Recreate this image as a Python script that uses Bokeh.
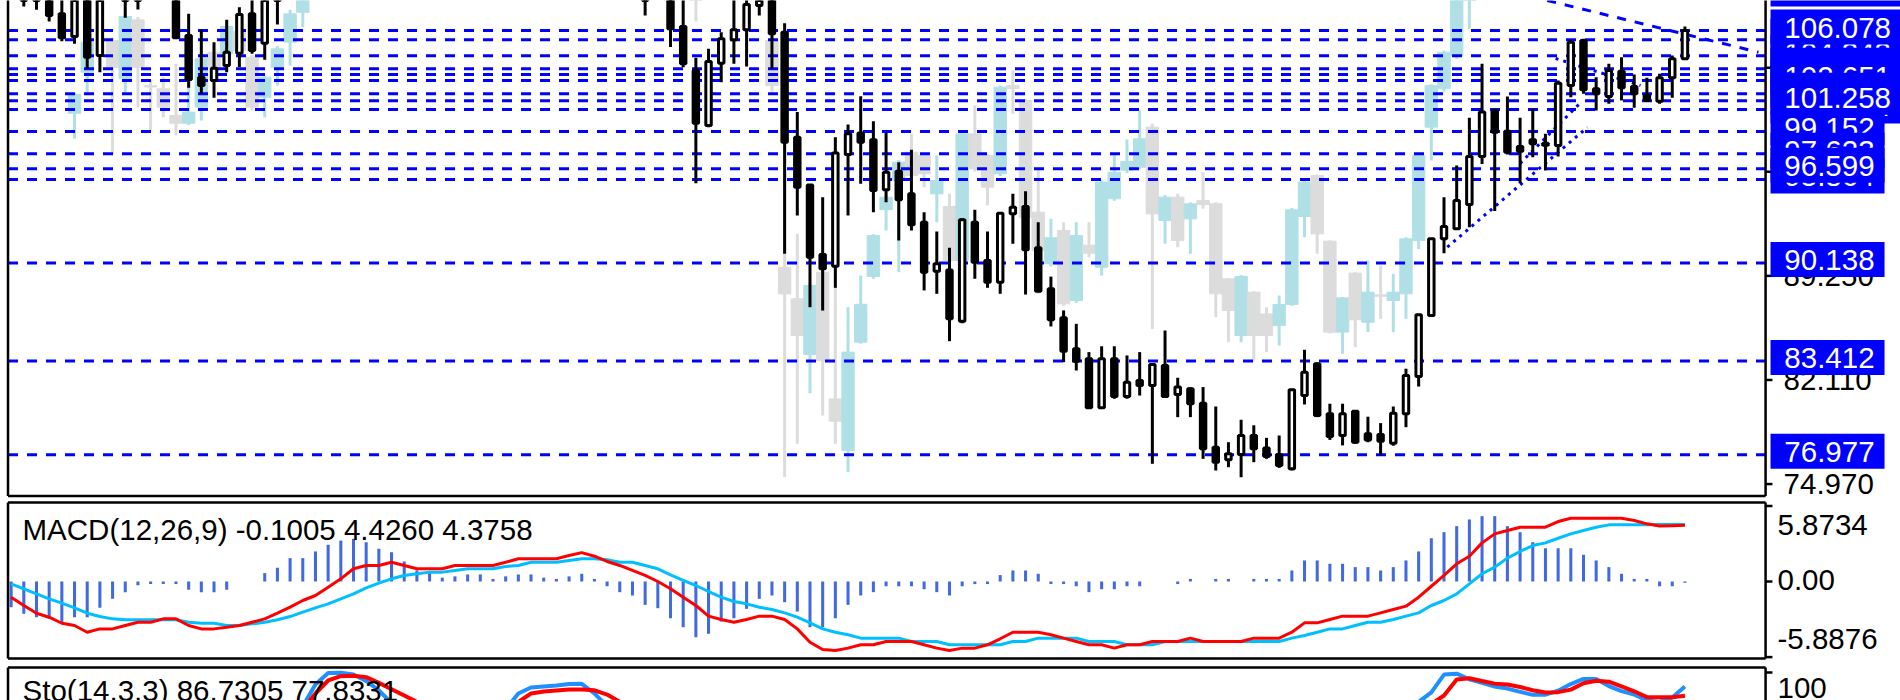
import numpy as np
from bokeh.plotting import figure
from bokeh.models import Range1d, ColumnDataSource
from bokeh.layouts import column
from bokeh.embed import file_html
from bokeh.resources import INLINE
from bokeh.core.properties import value

N = None
FONT = value("Liberation Sans")
FS = "29.5px"

# ---------------- main price bars (bar index 0..131) ----------------
bar_open = ([108.9, 108.4, 108.8, 107.22, 105.67, 108.60, 104.36, N, 109.8, 108.6,
             N, N, 108.9, 105.74, 102.88, 102.65, 103.68, 104.52, 107.22, 105.21,
             108.60] + [N] * 28 +
            [109.6,
             N, 108.6, 106.35, 103.34, 99.56, 103.84, 105.44, 106.13, 107.79, 108.70,
             105.96, 98.76, 95.49, 90.71, 89.91, 97.57, 99.04, 98.58, 95.15, 96.43,
             94.88, 92.93, 89.57, 89.66, 86.14, 92.93, 90.30, 88.82, 93.51, 94.01,
             91.17, 88.36, 86.37, 84.25, 83.56, 80.20, 83.56, 80.98, 82.07, 81.73,
             83.10, 81.11, 81.50, 80.52, 77.50, 76.63, 76.99, 78.30, 77.45, 76.99,
             76.02, 81.04, 83.22, 79.79, 78.30, 79.96, 78.42, 78.37, 77.77, 79.79,
             82.35, 86.53, 91.79, 92.48, 94.14, 97.44, 100.59, 99.17, 98.12, 98.58,
             98.35, 98.19, 102.30, 105.39, 102.08, 101.55, 103.29, 102.24, 101.62, 101.23,
             102.83, 104.14])
bar_high = ([109.5, 109.2, 109.3, 108.40, 109.00, 109.00, 109.30, N, 110.3, 109.5,
             N, N, 109.3, 107.22, 106.13, 105.28, 106.81, 107.68, 108.40, 109.00,
             110.00] + [N] * 28 +
            [110.1,
             N, 109.2, 108.30, 104.21, 104.82, 105.96, 108.30, 108.50, 109.00, 109.10,
             106.58, 100.48, 95.49, 94.65, 98.76, 99.63, 101.57, 99.86, 99.04, 97.05,
             97.90, 93.62, 92.29, 91.17, 93.20, 93.78, 92.29, 93.60, 94.88, 95.06,
             92.93, 89.20, 86.88, 85.96, 84.02, 84.42, 84.42, 83.79, 84.02, 83.26,
             85.50, 82.26, 81.60, 81.62, 80.29, 77.84, 79.38, 79.00, 78.14, 78.30,
             81.50, 84.18, 83.30, 80.48, 80.48, 80.00, 79.59, 79.15, 80.29, 82.88,
             86.60, 91.80, 94.65, 96.82, 100.09, 103.79, 100.65, 101.55, 100.09, 100.71,
             98.99, 102.65, 105.44, 105.51, 102.88, 103.79, 104.25, 103.06, 102.83, 103.11,
             104.36, 106.35])
bar_low = ([107.72, 107.50, 106.70, 105.34, 105.17, 103.45, 103.22, N, 106.95, 107.52,
            N, N, 105.58, 102.15, 101.74, 101.46, 103.22, 103.56, 104.48, 104.07,
            106.49] + [N] * 28 +
           [107.10,
            N, 104.94, 103.56, 95.60, 99.45, 102.53, 103.80, 103.61, 107.10, 103.45,
            90.76, 93.39, 87.10, 86.87, 88.43, 93.39, 95.56, 93.62, 94.30, 91.68,
            92.36, 88.25, 88.02, 84.77, 86.00, 89.05, 88.43, 88.02, 91.45, 87.97,
            88.15, 85.78, 83.33, 82.76, 80.15, 80.15, 80.82, 80.82, 81.04, 76.36,
            80.90, 79.56, 79.56, 76.70, 75.90, 76.13, 75.44, 76.47, 76.70, 76.08,
            75.90, 80.43, 79.56, 78.00, 77.62, 77.73, 77.84, 76.93, 77.60, 78.87,
            81.66, 86.50, 90.80, 92.40, 92.59, 96.93, 93.69, 97.57, 95.60, 97.39,
            96.48, 97.44, 101.50, 101.74, 100.59, 101.05, 101.28, 100.78, 101.25, 101.05,
            101.46, 104.10])
bar_close = ([108.4, 108.9, 107.10, 105.58, 108.50, 104.25, 108.90, N, 108.6, 109.2,
              N, N, 105.58, 102.72, 102.31, 103.49, 104.59, 107.17, 104.71, 108.60,
              109.40] + [N] * 28 +
             [109.0,
              N, 106.19, 103.80, 99.72, 103.95, 105.51, 106.13, 107.86, 108.60, 105.85,
              98.42, 95.33, 90.53, 89.73, 97.67, 98.99, 98.42, 95.10, 96.36, 94.47,
              92.75, 89.50, 90.08, 86.30, 93.09, 90.19, 88.82, 93.55, 93.96, 91.04,
              88.20, 86.24, 84.08, 83.40, 80.20, 83.56, 80.98, 81.96, 81.73, 83.17,
              80.98, 81.62, 80.48, 77.39, 76.47, 77.05, 78.30, 77.39, 76.86, 76.24,
              81.44, 82.64, 79.67, 78.23, 79.79, 77.84, 78.00, 77.91, 79.83, 82.42,
              86.58, 91.79, 92.64, 94.42, 97.44, 100.48, 99.10, 97.73, 97.80, 98.31,
              98.20, 102.46, 105.28, 102.01, 101.74, 103.34, 102.15, 101.74, 101.28, 102.83,
              104.14, 106.08])

# ---------------- overlay ("ghost") bars, same bar index ----------------
g_open = ([N, N, N, N, 100.40, 103.22, N, 105.39, 102.77, 106.81,
           102.30, 102.08, 100.25, 99.72, 100.82, 104.59, 104.48, 106.00, 104.25, 101.50,
           103.56, 105.28, 107.33] + [N] * 30 + [109.50] + [N] * 5 + [105.39,
           89.84, 87.68, 83.86, 89.50, 80.81, 77.27, 84.70, 89.21, 93.79, 95.79,
           97.73, 97.50, 94.88, 94.01, 90.30, 98.99, 97.50, 96.25, 102.30, 101.28,
           93.62, 90.08, 92.36, 87.56, 91.36, 89.84, 94.54, 96.50, 96.70, 99.45,
           93.05, 94.65, 93.16, 94.42, 94.19, 89.05, 85.16, 88.13, 86.64, 85.85,
           87.29, 93.32, 96.13, 91.63, 85.39, 89.44, 86.07, 87.95, 87.56, 88.02,
           91.68, 99.45, 102.08, 104.36, 108.50] + [N] * 17)
g_high = ([N, N, N, N, 101.80, 105.50, N, 105.60, 107.20, 107.00,
           102.65, 102.88, 103.79, 104.14, 104.30, 104.80, 106.50, 106.40, 104.40, 103.00,
           105.00, 107.50, 109.00] + [N] * 30 + [110.00] + [N] * 5 + [108.30,
           98.00, 92.13, 88.70, 89.60, 89.05, 87.10, 89.27, 92.10, 94.80, 97.20,
           99.00, 97.70, 97.50, 94.88, 99.10, 100.94, 97.60, 102.30, 103.34, 101.40,
           96.59, 93.16, 92.93, 92.93, 92.93, 95.80, 97.62, 98.60, 100.59, 99.68,
           94.80, 94.88, 94.30, 96.36, 94.30, 89.10, 89.30, 88.20, 87.10, 87.90,
           93.90, 95.80, 96.20, 91.70, 87.80, 89.50, 90.30, 89.96, 89.39, 91.90,
           97.60, 102.40, 104.70, 108.60, 110.00] + [N] * 17)
g_low = ([N, N, N, N, 98.65, 101.85, N, 97.62, 101.85, 100.80,
          99.22, 100.13, 98.88, 99.60, 99.90, 103.30, 103.90, 104.50, 100.60, 100.13,
          102.30, 103.68, 106.30] + [N] * 30 + [106.70] + [N] * 5 + [101.90,
          75.45, 77.73, 81.20, 79.67, 77.73, 75.78, 84.60, 89.05, 92.36, 89.50,
          94.50, 95.33, 92.93, 90.20, 90.20, 96.40, 94.08, 96.10, 100.37, 93.10,
          88.00, 89.90, 87.20, 87.40, 90.53, 89.27, 94.40, 96.30, 96.60, 85.60,
          91.45, 91.22, 90.76, 93.85, 86.42, 84.70, 84.70, 83.44, 84.02, 84.47,
          87.20, 91.90, 90.76, 85.30, 83.90, 84.36, 85.39, 86.30, 85.39, 86.30,
          91.10, 97.16, 101.90, 104.14, 106.20] + [N] * 17)
g_close = ([N, N, N, N, 101.70, 105.28, N, 103.56, 107.04, 103.56,
            102.20, 100.82, 99.72, 100.48, 104.14, 103.56, 106.35, 104.70, 100.82, 102.88,
            104.82, 107.22, 108.50] + [N] * 30 + [108.60] + [N] * 5 + [102.30,
            88.01, 85.16, 88.59, 83.44, 79.28, 84.02, 87.30, 92.02, 94.64, 97.05,
            96.13, 96.25, 95.79, 90.30, 98.99, 96.59, 95.33, 102.19, 102.10, 93.27,
            90.99, 91.86, 87.33, 92.02, 90.80, 95.68, 96.36, 97.10, 98.65, 93.50,
            94.65, 91.68, 94.19, 94.14, 88.02, 86.87, 89.21, 85.16, 85.16, 87.29,
            93.78, 95.68, 92.13, 85.39, 87.74, 86.24, 88.13, 87.85, 88.13, 91.79,
            97.50, 102.30, 104.59, 108.40, 109.50] + [N] * 17)

# ---------------- horizontal levels and price axis ----------------
level_prices = [105.441, 104.343, 103.455, 103.062, 102.651, 101.742, 100.664, 99.152, 97.623, 95.864,
                106.078, 101.258, 96.599, 90.138, 83.412, 76.977]
level_front = [0, 0, 0, 0, 0, 0, 0, 0, 0, 0, 1, 1, 1, 1, 1, 1]
offscreen_level = [108.683]
price_ticks = [74.970, 82.110, 89.250, 96.390, 103.530]
price_tick_labels = ["74.970", "82.110", "89.250", "96.390", "103.530"]

# trend lines (bar index, price)
trend_x0 = [112.26, 120.8, 118.0]
trend_y0 = [91.22, 104.16, 96.96]
trend_x1 = [123.3, 127.5, 122.7]
trend_y1 = [99.43, 102.31, 101.07]
dash_x0 = [120.14]
dash_y0 = [108.14]
dash_x1 = [136.8]
dash_y1 = [104.59]

# ---------------- MACD (bar index -1..131) ----------------
macd_hist = [-2.00, -2.52, -2.78, -2.91, -3.25, -2.78, -2.78, -2.05, -1.35, -0.83,
             -0.30, -0.20, -0.20, -0.20, -0.65, -0.83, -0.83, -0.65, 0.00, 0.00,
             0.65, 1.07, 1.82, 1.82, 2.34, 2.86, 3.19, 3.32, 3.06, 2.55,
             2.28, 1.56, 0.86, 0.65, 0.30, 0.40, 0.55, 0.55, 0.20, 0.40,
             0.55, 0.55, 0.30, 0.20, 0.40, 0.60, 0.20, -0.37, -0.83, -1.09,
             -1.82, -2.08, -2.86, -3.56, -4.34, -4.07, -3.12, -2.86, -2.13, -1.35,
             -1.09, -1.61, -2.34, -3.56, -3.56, -2.86, -1.82, -1.09, -0.83, -0.37,
             -0.37, -0.37, -0.60, -0.83, -1.09, -0.37, -0.20, -0.20, 0.50, 0.86,
             0.86, 0.60, -0.20, -0.20, -0.37, -0.83, -0.60, -0.60, -0.37, -0.37,
             0.00, 0.00, -0.20, 0.20, 0.00, 0.20, 0.20, 0.00, 0.20, 0.20,
             0.20, 0.86, 1.64, 1.64, 1.38, 1.38, 1.12, 1.12, 0.86, 1.12,
             1.64, 2.34, 3.37, 3.84, 4.31, 4.83, 5.09, 5.09, 4.31, 3.84,
             3.06, 2.59, 2.59, 2.59, 2.08, 1.64, 1.12, 0.60, 0.20, 0.20,
             -0.37, -0.37, -0.10]
macd_red = [-1.22, -1.87, -2.47, -2.78, -3.25, -3.43, -3.95, -3.69, -3.69, -3.43,
            -3.17, -3.17, -2.91, -2.91, -3.43, -3.69, -3.69, -3.56, -3.43, -3.17,
            -2.91, -2.47, -2.00, -1.48, -1.09, -0.44, 0.21, 0.99, 1.25, 1.25,
            1.50, 1.25, 0.99, 0.99, 0.99, 1.25, 1.25, 1.25, 1.25, 1.50,
            1.77, 1.77, 1.77, 1.77, 2.02, 2.25, 1.97, 1.56, 1.25, 0.86,
            0.47, 0.00, -0.57, -1.22, -1.87, -2.70, -2.96, -3.17, -2.96, -2.70,
            -2.70, -2.96, -3.69, -4.73, -5.30, -5.37, -5.19, -4.93, -4.93, -4.67,
            -4.67, -4.67, -4.93, -5.19, -5.37, -5.19, -5.19, -4.93, -4.46, -3.95,
            -3.95, -3.95, -4.15, -4.41, -4.67, -4.93, -4.93, -5.19, -4.93, -4.93,
            -4.67, -4.67, -4.67, -4.41, -4.67, -4.67, -4.67, -4.67, -4.41, -4.41,
            -4.41, -3.95, -3.22, -3.22, -2.96, -2.70, -2.70, -2.70, -2.44, -2.18,
            -1.92, -1.22, -0.37, 0.47, 1.38, 1.97, 3.01, 3.71, 3.97, 4.23,
            4.23, 4.23, 4.67, 4.93, 4.93, 4.93, 4.93, 4.93, 4.75, 4.49,
            4.32, 4.35, 4.38]
macd_blue = [-0.18, -0.57, -0.96, -1.35, -1.69, -2.05, -2.47, -2.73, -2.91, -2.98,
             -2.98, -2.98, -2.98, -2.98, -3.17, -3.25, -3.25, -3.43, -3.43, -3.30,
             -3.17, -2.98, -2.73, -2.39, -2.05, -1.74, -1.35, -0.96, -0.49, -0.13,
             0.21, 0.47, 0.60, 0.73, 0.73, 0.86, 0.99, 0.99, 0.99, 1.17,
             1.25, 1.50, 1.50, 1.50, 1.64, 1.77, 1.77, 1.70, 1.50, 1.50,
             1.25, 0.99, 0.52, 0.08, -0.31, -0.78, -1.22, -1.56, -1.74, -2.00,
             -2.18, -2.44, -2.78, -3.22, -3.69, -3.95, -4.15, -4.41, -4.41, -4.41,
             -4.41, -4.67, -4.67, -4.67, -4.93, -4.93, -4.93, -4.93, -4.93, -4.67,
             -4.67, -4.41, -4.41, -4.41, -4.41, -4.67, -4.67, -4.67, -4.93, -4.93,
             -4.93, -4.67, -4.67, -4.67, -4.67, -4.67, -4.67, -4.67, -4.67, -4.67,
             -4.67, -4.41, -4.20, -3.95, -3.69, -3.69, -3.43, -3.17, -3.17, -2.96,
             -2.70, -2.44, -1.87, -1.48, -0.96, -0.18, 0.60, 1.12, 1.82, 2.34,
             2.80, 3.01, 3.37, 3.71, 3.97, 4.23, 4.41, 4.41, 4.41, 4.41,
             4.43, 4.43, 4.43]
macd_ticks = [5.8734, 0.0, -5.8876]
macd_tick_labels = ["5.8734", "0.00", "-5.8876"]
macd_title = "MACD(12,26,9) -0.1005 4.4260 4.3758"

# ---------------- Stochastic (bar index 0..131) ----------------
sto_main = [40, 35, 30, 25, 28, 22, 30, 38, 35, 40,
            45, 42, 35, 20, 15, 22, 35, 50, 45, 55,
            62, 66, 68, 88.6, 99.6, 99.8, 98.1, 91.9, 82.9, 71,
            62, 55, 50, 52, 58, 55, 48, 55, 65, 80,
            85.7, 86.7, 87.6, 89.0, 89.2, 80, 68, 55, 42, 35,
            30, 22, 15, 8, 20, 30, 38, 45, 48, 35,
            10, 8, 5, 6, 25, 30, 32, 25, 30, 25,
            22, 12, 15, 8, 25, 20, 15, 28, 30, 20,
            12, 8, 5, 6, 4, 18, 12, 16, 14, 22,
            15, 17, 12, 6, 4, 8, 15, 12, 10, 8,
            40, 50, 35, 28, 35, 25, 28, 26, 38, 55,
            72, 81, 98.0, 98.9, 93.6, 90.1, 86.6, 84.7, 81.6, 78.7,
            78.9, 82.7, 89.0, 93.9, 93.9, 87.1, 82.2, 79.0, 73.3, 72.0,
            76.2, 86.73]
sto_signal = [38, 36, 35, 30, 28, 25, 27, 30, 34, 38,
              40, 42, 41, 32, 23, 19, 24, 36, 43, 50,
              54, 58, 65, 80, 92.4, 96.5, 96.8, 95.6, 90.1, 84.1,
              78.1, 72, 62, 55, 53, 55, 54, 53, 56, 72,
              80, 81.9, 82.9, 83.8, 83.8, 83, 79, 72, 55, 44,
              36, 29, 22, 15, 14, 19, 29, 38, 44, 43,
              31, 18, 8, 6, 12, 20, 29, 29, 29, 27,
              26, 20, 16, 12, 16, 18, 20, 21, 24, 26,
              21, 13, 8, 6, 5, 9, 11, 15, 14, 17,
              17, 18, 15, 12, 7, 6, 9, 12, 12, 10,
              19, 33, 42, 38, 33, 29, 29, 26, 31, 40,
              55, 70, 78.1, 93.3, 94.5, 91.9, 89.4, 88.5, 86.2, 83.1,
              81.0, 81.3, 83.7, 89.7, 92.2, 91.2, 86.7, 82.1, 76.5, 76.5,
              76.5, 77.83]
sto_title = "Sto(14,3,3) 86.7305 77.8331"

# ---------------- layout constants (screen geometry in bar units) ----------------
W = 1900
X_RANGE = (-1.838, 148.0)
XL, XR = -1.246, 137.36         # frame left / right
X_TICK_END = 137.9
X_BOX_LEFT = 137.75
X_LBL = 138.78
X_LBL2 = 138.3
PX = 12.68                      # pixels per bar
PY = 14.58                      # pixels per price unit (main panel)


def arr(v):
    return np.array([np.nan if a is None else a for a in v], dtype=float)


def base_fig(h, yr):
    p = figure(width=W, height=h, x_range=Range1d(*X_RANGE), y_range=Range1d(*yr),
               x_axis_type=None, y_axis_type=None, toolbar_location=None,
               output_backend="svg", min_border=0, outline_line_color=None,
               background_fill_color="white", border_fill_color="white")
    return p


def frame(p, y_bot, y_top, top=True, bottom=True):
    p.segment(x0=[XL, XR], y0=[y_bot, y_bot], x1=[XL, XR], y1=[y_top, y_top],
              line_color="black", line_width=2.5)
    ys = []
    if top:
        ys.append(y_top)
    if bottom:
        ys.append(y_bot)
    if ys:
        p.segment(x0=[XL] * len(ys), y0=ys, x1=[XR] * len(ys), y1=ys,
                  line_color="black", line_width=2.5)


def box_width(label):
    return 16.5 * len(label) + 15


# ================= main panel =================
p1 = base_fig(499, (73.911, 108.136))

# ghost bars
go, gh, gl, gc = map(arr, (g_open, g_high, g_low, g_close))
gi = np.arange(len(go), dtype=float)
gv = ~np.isnan(go)
gcol = np.where(gc >= go, "#B0E0E6", "#DCDCDC")
gsrc = ColumnDataSource(dict(x=gi[gv], h=gh[gv], l=gl[gv],
                             top=np.maximum(go, gc)[gv], bot=np.minimum(go, gc)[gv],
                             col=gcol[gv]))
p1.segment(x0="x", y0="l", x1="x", y1="h", source=gsrc, line_color="col", line_width=3)
p1.vbar(x="x", top="top", bottom="bot", width=0.98, source=gsrc,
        fill_color="col", line_color="col", line_width=1)

# level lines
p1.segment(x0=[XL] * len(level_prices), y0=level_prices,
           x1=[XR] * len(level_prices), y1=level_prices,
           line_color="#0000FF", line_width=3, line_dash="10 9")

# trend lines
p1.segment(x0=trend_x0, y0=trend_y0, x1=trend_x1, y1=trend_y1,
           line_color="#0000FF", line_width=3, line_dash="3 5")
p1.segment(x0=dash_x0, y0=dash_y0, x1=dash_x1, y1=dash_y1,
           line_color="#0000FF", line_width=3, line_dash="9 9")

# black candles
o, h, l, c = map(arr, (bar_open, bar_high, bar_low, bar_close))
bi = np.arange(len(o), dtype=float)
valid = ~np.isnan(o)
p1.segment(x0=bi[valid], y0=l[valid], x1=bi[valid], y1=h[valid],
           line_color="black", line_width=3)
up = valid & (c > o)
dn = valid & (c <= o)
p1.vbar(x=bi[up], top=c[up], bottom=o[up], width=0.43,
        fill_color="white", line_color="black", line_width=3)
p1.vbar(x=bi[dn], top=o[dn], bottom=c[dn], width=0.43,
        fill_color="black", line_color="black", line_width=3)

Y1_BOT = 74.15
frame(p1, Y1_BOT, 110.0, top=False, bottom=True)

# price axis ticks + labels
p1.segment(x0=[XR] * len(price_ticks), y0=price_ticks,
           x1=[X_TICK_END] * len(price_ticks), y1=price_ticks,
           line_color="black", line_width=2.5)
p1.text(x=[X_LBL] * len(price_ticks), y=price_ticks, text=price_tick_labels,
        text_font=FONT, text_font_size=FS, text_color="black",
        text_align="left", text_baseline="middle")

# label box of a level that lies above the visible area (only its box edge shows)
ow = box_width("108.683")
p1.rect(x=[X_BOX_LEFT + (ow / 2.0) / PX], y=[offscreen_level[0] + 3.5 / PY], width=[ow],
        height=35, width_units="screen", height_units="screen",
        fill_color="#0000FF", line_color=None)

# hidden level labels, drawn one by one from the highest down
hidden = sorted([k for k in range(len(level_prices)) if level_front[k] == 0],
                key=lambda k: -level_prices[k])
for k in hidden:
    lab = "%.3f" % level_prices[k]
    w = box_width(lab)
    p1.rect(x=[X_BOX_LEFT + (w / 2.0) / PX], y=[level_prices[k] + 3.5 / PY], width=[w],
            height=35, width_units="screen", height_units="screen",
            fill_color="#0000FF", line_color=None)
    p1.text(x=[X_LBL + 0.06], y=[level_prices[k]], text=[lab],
            text_font=FONT, text_font_size=FS, text_color="white",
            text_align="left", text_baseline="middle", y_offset=-3)

# front level labels
sel = [k for k in range(len(level_prices)) if level_front[k] == 1]
labs = ["%.3f" % level_prices[k] for k in sel]
widths = [box_width(s) for s in labs]
p1.rect(x=[X_BOX_LEFT + (w / 2.0) / PX for w in widths],
        y=[level_prices[k] + 3.5 / PY for k in sel], width=widths, height=35,
        width_units="screen", height_units="screen", fill_color="#0000FF", line_color=None)
p1.text(x=[X_LBL + 0.06] * len(sel), y=[level_prices[k] for k in sel], text=labs,
        text_font=FONT, text_font_size=FS, text_color="white",
        text_align="left", text_baseline="middle", y_offset=-3)

# ================= MACD panel =================
p2 = base_fig(162, (-6.23, 6.386))
hist = arr(macd_hist)
mi = np.arange(len(hist), dtype=float) - 1
p2.vbar(x=mi, top=np.maximum(hist, 0), bottom=np.minimum(hist, 0), width=0.24,
        fill_color="#4169E1", line_color=None)
p2.line(mi, arr(macd_blue), line_color="#00BFFF", line_width=3)
p2.line(mi, arr(macd_red), line_color="#FF0000", line_width=3)
frame(p2, -6.0, 6.15)
p2.segment(x0=[XR] * len(macd_ticks), y0=macd_ticks,
           x1=[X_TICK_END] * len(macd_ticks), y1=macd_ticks,
           line_color="black", line_width=2.5)
msrc = ColumnDataSource(dict(x=[X_LBL2] * 3, y=macd_ticks, t=macd_tick_labels,
                             off=[19, -2, -18]))
p2.text(x="x", y="y", text="t", y_offset="off", source=msrc,
        text_font=FONT, text_font_size=FS, text_color="black",
        text_align="left", text_baseline="middle")
p2.text(x=[-0.1], y=[4.05], text=[macd_title], text_font=FONT, text_font_size=FS,
        text_color="black", text_align="left", text_baseline="middle")

# ================= Stochastic panel =================
p3 = base_fig(39, (73.33, 110.48))
si = np.arange(len(sto_main), dtype=float)
p3.line(si, arr(sto_main), line_color="#1E90FF", line_width=4)
p3.line(si, arr(sto_signal), line_color="#FF0000", line_width=4)
frame(p3, 60, 104.76, top=True, bottom=False)
p3.segment(x0=[XR], y0=[100], x1=[X_TICK_END], y1=[100], line_color="black", line_width=2.5)
p3.text(x=[X_LBL2], y=[100], text=["100"], y_offset=15, text_font=FONT,
        text_font_size=FS, text_color="black", text_align="left", text_baseline="middle")
p3.text(x=[-0.1], y=[82.9], text=[sto_title], text_font=FONT, text_font_size=FS,
        text_color="black", text_align="left", text_baseline="middle")

layout = column(p1, p2, p3, spacing=0)
open("out.html", "w").write(file_html(layout, INLINE, title="chart"))
